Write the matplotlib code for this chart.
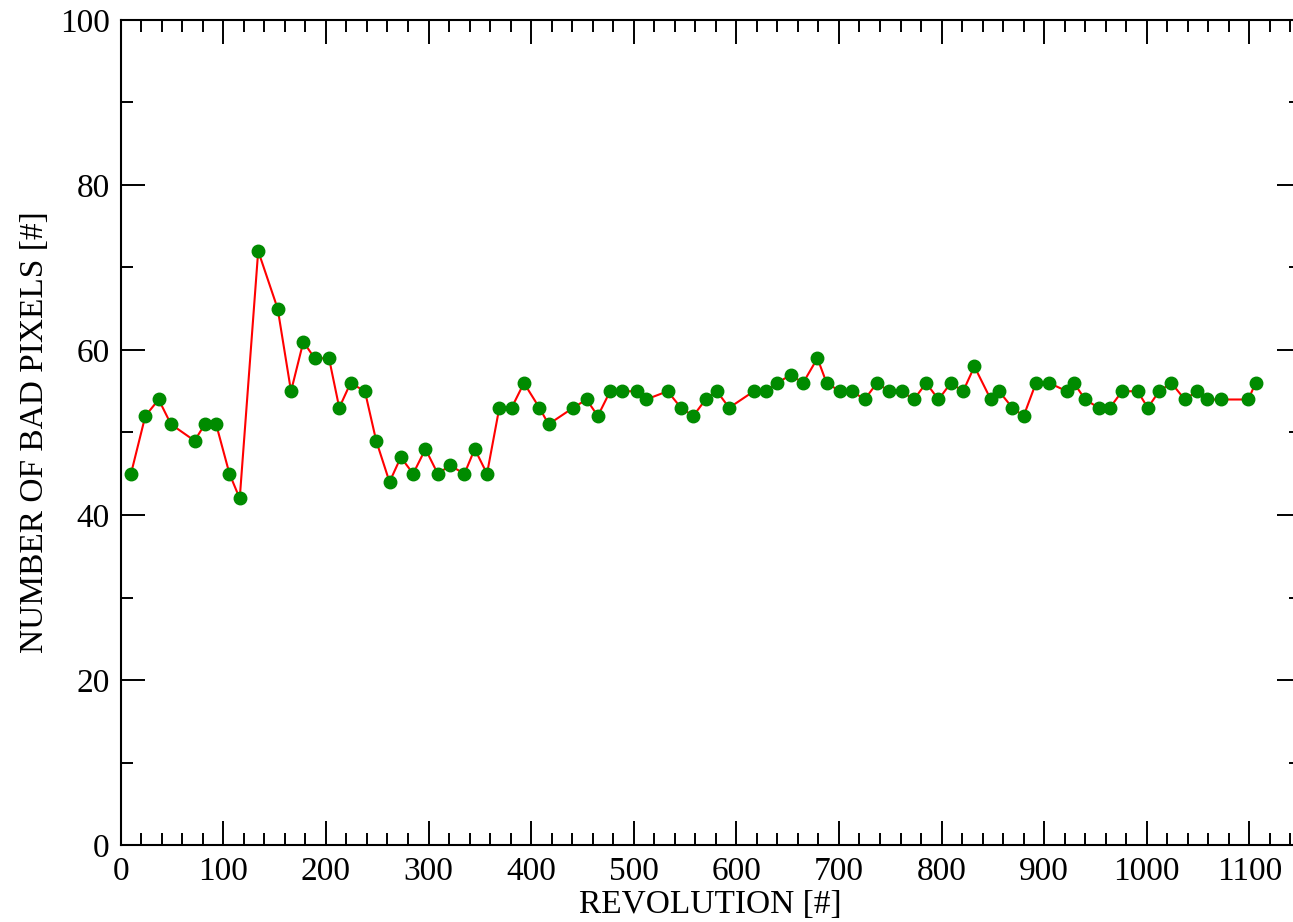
import numpy as np
import matplotlib
matplotlib.use('Agg')
import matplotlib.pyplot as plt
from matplotlib.ticker import MultipleLocator

# revolution number vs bad pixel count
revolution = [10, 24, 37, 49, 72, 82, 93, 106, 116, 134, 153, 166, 178, 189, 203,
              213, 224, 238, 249, 262, 273, 285, 297, 309, 321, 335, 345, 357, 369,
              381, 393, 408, 417, 441, 454, 465, 477, 489, 503, 512, 533, 546, 558,
              570, 581, 593, 617, 629, 640, 653, 665, 679, 688, 701, 713, 725, 737,
              749, 761, 773, 785, 797, 809, 821, 832, 848, 856, 869, 880, 892, 905,
              922, 929, 940, 953, 964, 976, 991, 1001, 1012, 1024, 1037, 1049, 1059,
              1072, 1099, 1106]
bad_pixels = [45, 52, 54, 51, 49, 51, 51, 45, 42, 72, 65, 55, 61, 59, 59,
              53, 56, 55, 49, 44, 47, 45, 48, 45, 46, 45, 48, 45, 53,
              53, 56, 53, 51, 53, 54, 52, 55, 55, 55, 54, 55, 53, 52,
              54, 55, 53, 55, 55, 56, 57, 56, 59, 56, 55, 55, 54, 56,
              55, 55, 54, 56, 54, 56, 55, 58, 54, 55, 53, 52, 56, 56,
              55, 56, 54, 53, 53, 55, 55, 53, 55, 56, 54, 55, 54,
              54, 54, 56]

plt.rcParams['font.family'] = ['Liberation Serif', 'DejaVu Serif']

fig = plt.figure(figsize=(12.93, 9.22), dpi=100)
# right spine sits just past the image edge in the reference
ax = fig.add_axes([120.7 / 1293, 77 / 922, 1180 / 1293, 825 / 922])

ax.plot(revolution, bad_pixels, color='#ff0000', lw=1.5, zorder=2)
ax.plot(revolution, bad_pixels, 'o', color='#008b00', ms=9, mec='#008b00', zorder=3)

ax.set_xlim(0, 1150)
ax.set_ylim(0, 100)
ax.xaxis.set_major_locator(MultipleLocator(100))
ax.xaxis.set_minor_locator(MultipleLocator(20))
ax.yaxis.set_major_locator(MultipleLocator(20))
ax.yaxis.set_minor_locator(MultipleLocator(10))

ax.tick_params(which='both', direction='in', top=True, right=True, width=1.4, labelsize=24)
ax.tick_params(which='major', length=17, pad=8)
ax.tick_params(which='minor', length=8.6)
for s in ax.spines.values():
    s.set_linewidth(1.5)

ax.set_xlabel('REVOLUTION [#]', fontsize=24, labelpad=2)
ax.set_ylabel('NUMBER OF BAD PIXELS [#]', fontsize=24, labelpad=7)

fig.savefig('out.png', dpi=100)
